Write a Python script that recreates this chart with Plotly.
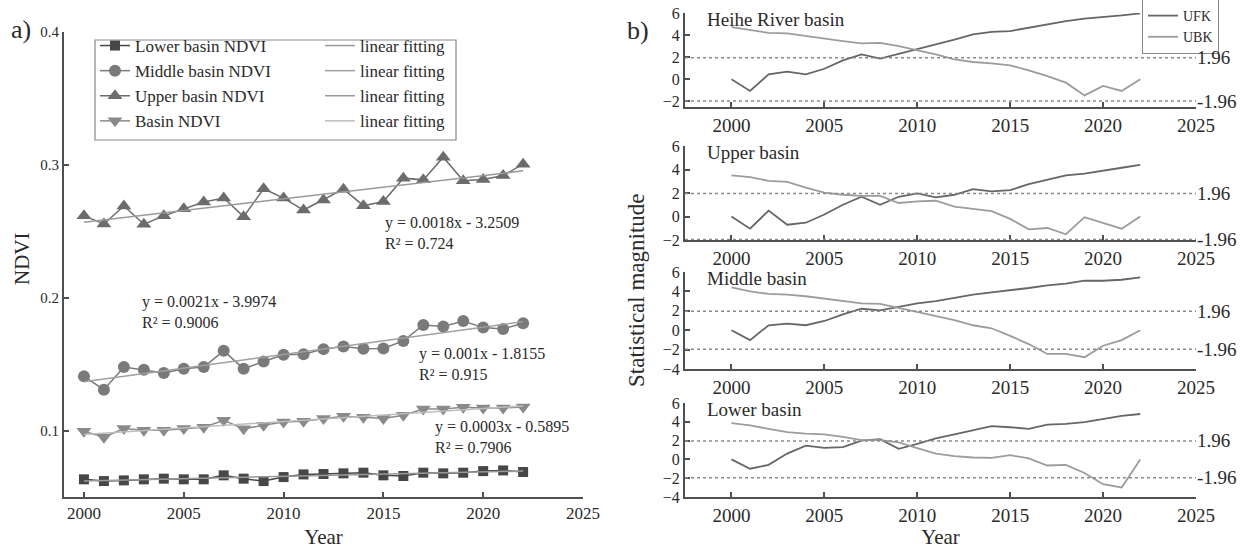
import numpy as np
import plotly.graph_objects as go

W, H = 1245, 549

def px(p):
    return p / W

def py(p):
    return 1 - p / H

years = list(range(2000, 2023))

# ---- Panel a) NDVI series ----
lower_ndvi = [0.0633, 0.0620, 0.0625, 0.0633, 0.0638, 0.0633, 0.0633, 0.0663, 0.0638, 0.0620,
              0.0650, 0.0670, 0.0673, 0.0678, 0.0683, 0.0663, 0.0658, 0.0683, 0.0678, 0.0683,
              0.0695, 0.0700, 0.0688]
middle_ndvi = [0.1408, 0.1308, 0.1478, 0.1458, 0.1433, 0.1465, 0.1478, 0.1600, 0.1465, 0.1520,
               0.1570, 0.1575, 0.1613, 0.1633, 0.1615, 0.1618, 0.1675, 0.1795, 0.1783, 0.1825,
               0.1775, 0.1765, 0.1808]
upper_ndvi = [0.2616, 0.2555, 0.2690, 0.2553, 0.2616, 0.2670, 0.2720, 0.2750, 0.2610, 0.2820,
              0.2750, 0.2660, 0.2736, 0.2817, 0.2693, 0.2724, 0.2900, 0.2887, 0.3058, 0.2880,
              0.2890, 0.2920, 0.3005]
basin_ndvi = [0.0995, 0.0950, 0.1015, 0.1003, 0.1003, 0.1015, 0.1025, 0.1078, 0.1013, 0.1040,
              0.1065, 0.1070, 0.1090, 0.1108, 0.1100, 0.1090, 0.1115, 0.1163, 0.1163, 0.1175,
              0.1170, 0.1170, 0.1178]

ndvi_names = ["Lower basin NDVI", "Middle basin NDVI", "Upper basin NDVI", "Basin NDVI"]
ndvi_series = [lower_ndvi, middle_ndvi, upper_ndvi, basin_ndvi]
ndvi_symbols = ["square", "circle", "triangle-up", "triangle-down"]
ndvi_colors = ["#474747", "#7a7a7a", "#6c6c6c", "#8a8a8a"]
ndvi_sizes = [10, 12, 13, 13]
fit_colors = ["#9a9a9a", "#a0a0a0", "#9a9a9a", "#bdbdbd"]

eq_texts = ["y = 0.0018x - 3.2509<br>R² = 0.724",
            "y = 0.0021x - 3.9974<br>R² = 0.9006",
            "y = 0.001x - 1.8155<br>R² = 0.915",
            "y = 0.0003x - 0.5895<br>R² = 0.7906"]
eq_x = [2015.0, 2002.8, 2016.7, 2017.5]
eq_y = [0.2485, 0.1890, 0.1500, 0.0950]

# ---- Panel b) Mann-Kendall statistics ----
mk_titles = ["Heihe River basin", "Upper basin", "Middle basin", "Lower basin"]
heihe_ufk = [0, -1.05, 0.45, 0.70, 0.45, 0.96, 1.72, 2.26, 1.87, 2.30, 2.70, 3.16, 3.60, 4.07,
             4.30, 4.37, 4.67, 4.97, 5.27, 5.50, 5.63, 5.78, 5.96]
heihe_ubk = [4.73, 4.46, 4.20, 4.15, 3.90, 3.67, 3.46, 3.25, 3.30, 3.00, 2.65, 2.26, 1.80, 1.57,
             1.45, 1.27, 0.81, 0.30, -0.30, -1.45, -0.60, -1.05, 0]
upper_ufk = [0, -1.04, 0.50, -0.70, -0.53, 0.17, 1.00, 1.68, 1.00, 1.68, 1.96, 1.63, 1.85, 2.33,
             2.13, 2.24, 2.75, 3.10, 3.50, 3.64, 3.87, 4.15, 4.40]
upper_ubk = [3.50, 3.36, 3.03, 2.94, 2.46, 2.04, 1.85, 1.76, 1.76, 1.15, 1.29, 1.34, 0.84, 0.64,
             0.45, -0.20, -1.09, -0.98, -1.51, -0.06, -0.56, -1.04, 0]
middle_ufk = [0, -1.02, 0.51, 0.68, 0.51, 0.95, 1.63, 2.21, 2.04, 2.41, 2.76, 3.00, 3.33, 3.67,
              3.91, 4.12, 4.35, 4.63, 4.80, 5.10, 5.10, 5.20, 5.44]
middle_ubk = [4.42, 4.00, 3.74, 3.67, 3.50, 3.27, 3.00, 2.76, 2.72, 2.31, 1.90, 1.53, 1.05, 0.51,
              0.20, -0.58, -1.43, -2.45, -2.45, -2.79, -1.60, -1.02, 0]
lower_ufk = [0, -0.99, -0.58, 0.62, 1.47, 1.23, 1.30, 1.99, 2.16, 1.13, 1.64, 2.23, 2.67, 3.12,
             3.53, 3.42, 3.25, 3.70, 3.77, 3.97, 4.32, 4.62, 4.83]
lower_ubk = [3.87, 3.63, 3.25, 2.91, 2.74, 2.67, 2.40, 2.05, 2.05, 1.82, 1.20, 0.62, 0.34, 0.20,
             0.17, 0.45, 0.10, -0.65, -0.58, -1.44, -2.64, -2.98, 0]
mk_ufk = [heihe_ufk, upper_ufk, middle_ufk, lower_ufk]
mk_ubk = [heihe_ubk, upper_ubk, middle_ubk, lower_ubk]
mk_ranges = [[-2.5, 6], [-2, 6], [-4, 6], [-4, 6]]
mk_ticks = [[-2, 0, 2, 4, 6], [-2, 0, 2, 4, 6], [-4, -2, 0, 2, 4, 6], [-4, -2, 0, 2, 4, 6]]
crit = 1.96

FONT = "Liberation Serif"
TXT = "#2a2a2a"
AX = "#505050"

fig = go.Figure()

# NDVI data + fits
for i in range(4):
    fig.add_trace(go.Scatter(
        x=years, y=ndvi_series[i], mode="lines+markers", name=ndvi_names[i],
        line=dict(color=ndvi_colors[i], width=1.5),
        marker=dict(symbol=ndvi_symbols[i], size=ndvi_sizes[i], color=ndvi_colors[i]),
        legend="legend", xaxis="x", yaxis="y"))
for i in range(4):
    k, b = np.polyfit(years, ndvi_series[i], 1)
    fig.add_trace(go.Scatter(
        x=years, y=[k * yr + b for yr in years], mode="lines", name="linear fitting",
        line=dict(color=fit_colors[i], width=1.5),
        legend="legend2", xaxis="x", yaxis="y"))

# MK subplots
tops = [13, 146, 272, 403]
bottoms = [107, 240, 369, 497]
x_dom_r = [px(685), px(1196)]
for i in range(4):
    n = i + 2
    xa, ya = f"x{n}", f"y{n}"
    fig.add_trace(go.Scatter(x=years, y=mk_ufk[i], mode="lines", name="UFK",
                             line=dict(color="#666666", width=1.8),
                             showlegend=(i == 0), legend="legend3", xaxis=xa, yaxis=ya))
    fig.add_trace(go.Scatter(x=years, y=mk_ubk[i], mode="lines", name="UBK",
                             line=dict(color="#9c9c9c", width=1.8),
                             showlegend=(i == 0), legend="legend3", xaxis=xa, yaxis=ya))

axis_common = dict(showline=True, linecolor=AX, linewidth=2, ticks="inside", ticklen=5,
                   tickwidth=1.5, tickcolor=AX, showgrid=False, zeroline=False, mirror=False)

layout = dict(
    width=W, height=H, margin=dict(l=0, r=0, t=0, b=0, autoexpand=False),
    paper_bgcolor="white", plot_bgcolor="white",
    font=dict(family=FONT, color=TXT),
    xaxis=dict(domain=[px(64), px(583)], range=[1999, 2025], tickvals=[2000, 2005, 2010, 2015, 2020, 2025],
               anchor="y", title=dict(text="Year", font=dict(size=21, family=FONT, color=TXT), standoff=12),
               tickfont=dict(family=FONT, size=17, color=TXT), **axis_common),
    yaxis=dict(domain=[py(497), py(32)], range=[0.05, 0.4], tickvals=[0.1, 0.2, 0.3, 0.4],
               ticktext=["0.1", "0.2", "0.3", "0.4"], anchor="x",
               tickfont=dict(family=FONT, size=15, color=TXT), **axis_common),
    showlegend=True,
    legend=dict(x=px(95), y=py(28), xanchor="left", yanchor="top", bgcolor="rgba(0,0,0,0)",
                font=dict(family=FONT, size=17, color=TXT), tracegroupgap=0, itemwidth=30),
    legend2=dict(x=px(320), y=py(28), xanchor="left", yanchor="top", bgcolor="rgba(0,0,0,0)",
                 font=dict(family=FONT, size=17, color=TXT), tracegroupgap=0, itemwidth=30),
    legend3=dict(x=px(1142), y=py(-1), xanchor="left", yanchor="top", bgcolor="white",
                 bordercolor="#888888", borderwidth=1,
                 font=dict(family=FONT, size=14, color=TXT), tracegroupgap=0, itemwidth=30),
)

for i in range(4):
    n = i + 2
    xk, yk = f"xaxis{n}", f"yaxis{n}"
    xa_cfg = dict(domain=x_dom_r, range=[1997.5, 2025], tickvals=[2000, 2005, 2010, 2015, 2020, 2025],
                  anchor=f"y{n}", tickfont=dict(family=FONT, size=19, color=TXT), **axis_common)
    if i == 3:
        xa_cfg["title"] = dict(text="Year", font=dict(size=21, family=FONT, color=TXT), standoff=14)
    layout[xk] = xa_cfg
    layout[yk] = dict(domain=[py(bottoms[i]), py(tops[i])], range=mk_ranges[i], tickvals=mk_ticks[i],
                      anchor=f"x{n}", tickfont=dict(family=FONT, size=16, color=TXT), **axis_common)

fig.update_layout(**layout)

# legend box around the two legend columns
fig.add_shape(type="rect", xref="paper", yref="paper", x0=px(95), x1=px(456), y0=py(140), y1=py(40),
              line=dict(color="#888888", width=1.2), fillcolor="rgba(0,0,0,0)")

# critical lines and labels
for i in range(4):
    n = i + 2
    for v, t in [(crit, "1.96"), (-crit, "-1.96")]:
        fig.add_shape(type="line", xref=f"x{n} domain", yref=f"y{n}", x0=0, x1=1, y0=v, y1=v,
                      line=dict(color="#8a8a8a", width=1.5, dash="dot"))
        fig.add_annotation(xref=f"x{n} domain", yref=f"y{n}", x=1, y=v, text=t, showarrow=False,
                           xanchor="left", yanchor="middle", xshift=-1,
                           font=dict(family=FONT, size=19, color=TXT))
    fig.add_annotation(xref=f"x{n} domain", yref=f"y{n} domain", x=0.04, y=1.0, text=mk_titles[i],
                       showarrow=False, xanchor="left", yanchor="top", yshift=6,
                       font=dict(family=FONT, size=19, color=TXT))

# equations
for i in range(4):
    fig.add_annotation(xref="x", yref="y", x=eq_x[i], y=eq_y[i], text=eq_texts[i], showarrow=False,
                       xanchor="left", yanchor="middle", align="left",
                       font=dict(family=FONT, size=16, color=TXT))

# panel labels and axis titles
fig.add_annotation(xref="paper", yref="paper", x=px(9), y=py(29), text="a)", showarrow=False,
                   xanchor="left", yanchor="middle", font=dict(family=FONT, size=26, color=TXT))
fig.add_annotation(xref="paper", yref="paper", x=px(625), y=py(31), text="b)", showarrow=False,
                   xanchor="left", yanchor="middle", font=dict(family=FONT, size=26, color=TXT))
fig.add_annotation(xref="paper", yref="paper", x=px(22), y=py(258), text="NDVI", showarrow=False,
                   textangle=-90, xanchor="center", yanchor="middle",
                   font=dict(family=FONT, size=21, color=TXT))
fig.add_annotation(xref="paper", yref="paper", x=px(636), y=py(290), text="Statistical magnitude",
                   showarrow=False, textangle=-90, xanchor="center", yanchor="middle",
                   font=dict(family=FONT, size=23, color=TXT))

fig.write_html("out.html")
